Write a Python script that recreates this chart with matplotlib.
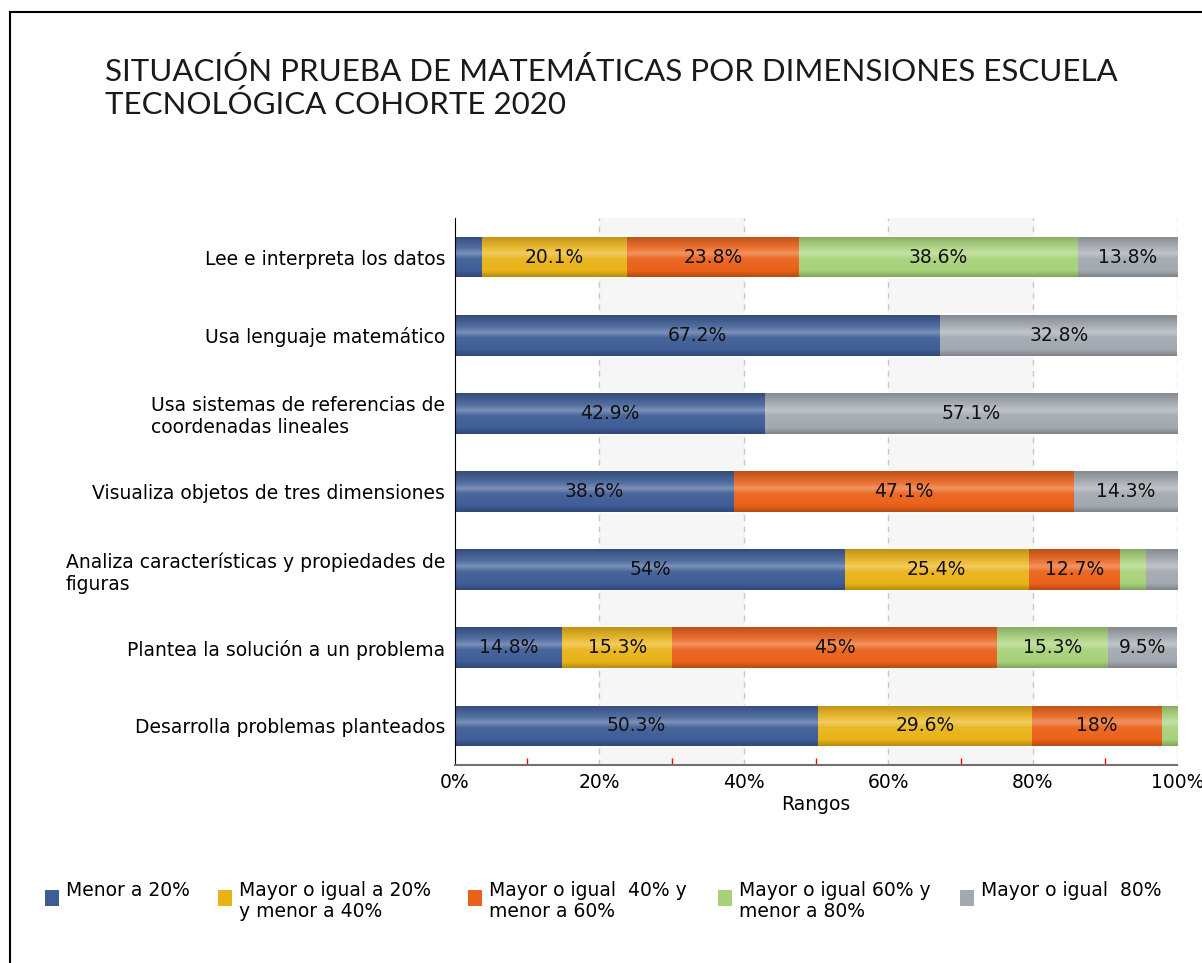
import numpy as np
import matplotlib
matplotlib.use("Agg")
import matplotlib.pyplot as plt
from matplotlib.colors import LinearSegmentedColormap, to_rgb
from matplotlib.patches import Rectangle

categories = [
    "Lee e interpreta los datos",
    "Usa lenguaje matemático",
    "Usa sistemas de referencias de\ncoordenadas lineales",
    "Visualiza objetos de tres dimensiones",
    "Analiza características y propiedades de\nfiguras",
    "Plantea la solución a un problema",
    "Desarrolla problemas planteados",
]
series_names = [
    "Menor a 20%",
    "Mayor o igual a 20%\ny menor a 40%",
    "Mayor o igual  40% y\nmenor a 60%",
    "Mayor o igual 60% y\nmenor a 80%",
    "Mayor o igual  80%",
]
menor_20 = [3.7, 67.2, 42.9, 38.6, 54.0, 14.8, 50.3]
entre_20_40 = [20.1, 0, 0, 0, 25.4, 15.3, 29.6]
entre_40_60 = [23.8, 0, 0, 47.1, 12.7, 45.0, 18.0]
entre_60_80 = [38.6, 0, 0, 0, 3.5, 15.3, 2.1]
mayor_80 = [13.8, 32.8, 57.1, 14.3, 4.4, 9.5, 0]
xticks = [0, 20, 40, 60, 80, 100]

series = [menor_20, entre_20_40, entre_40_60, entre_60_80, mayor_80]
colors = ["#3e5d96", "#e9b318", "#ea6119", "#a8d27a", "#a3a9b0"]

plt.rcParams['font.family'] = ['Lato', 'DejaVu Sans']
TXT = 13.5

fig = plt.figure(figsize=(12.02, 9.63), dpi=100)
ax = fig.add_axes([0.3785, 0.2056, 0.601, 0.568])

# outer frame
fig.patches.append(Rectangle((10 / 1202, -0.01), 1.01, 1 - 12 / 963 + 0.01,
                             transform=fig.transFigure, fill=False,
                             edgecolor="black", linewidth=1.5))

# alternating background bands + dashed grid
for i in range(1, len(xticks) - 1, 2):
    ax.axvspan(xticks[i], xticks[i + 1], color="#f6f6f6", zorder=0)
for t in xticks[1:]:
    ax.axvline(t, color="#c8c8c8", linestyle=(0, (4, 4)), linewidth=1, zorder=0.5)


def shade(c, f):
    r = np.array(to_rgb(c))
    if f >= 0:
        return tuple(r + (1 - r) * f)
    return tuple(r * (1 + f))


y = np.arange(len(categories))
left = np.zeros(len(categories))
grad = np.linspace(0, 1, 100).reshape(-1, 1)
for vals, name, c in zip(series, series_names, colors):
    vals = np.array(vals, dtype=float)
    bars = ax.barh(y, vals, left=left, height=0.52, color=c,
                   edgecolor="white", linewidth=1.2, zorder=2)
    cmap = LinearSegmentedColormap.from_list(
        "g", [(0, shade(c, -0.18)), (0.3, shade(c, 0.12)), (0.42, shade(c, 0.32)),
              (0.55, shade(c, 0.06)), (0.85, c), (1, shade(c, -0.22))])
    for b, v in zip(bars, vals):
        if v <= 0:
            continue
        x0, y0 = b.get_x(), b.get_y()
        im = ax.imshow(grad, extent=(x0, x0 + b.get_width(), y0 + b.get_height(), y0),
                       aspect="auto", cmap=cmap, zorder=2.5)
        im.set_clip_path(b)
        if v >= 9:
            ax.text(x0 + b.get_width() / 2, b.get_y() + b.get_height() / 2,
                    f"{v:g}%", ha="center", va="center", fontsize=TXT,
                    color="#111111", zorder=3, family="DejaVu Sans")
    left += vals

ax.set_xlim(0, 100)
ax.set_ylim(len(categories) - 0.5, -0.5)
ax.set_yticks(y)
ax.set_yticklabels(categories, fontsize=TXT, family="DejaVu Sans", multialignment="left")
ax.set_xticks(xticks)
ax.set_xticklabels([f"{t}%" for t in xticks], fontsize=TXT, family="DejaVu Sans")
ax.set_xticks([10, 30, 50, 70, 90], minor=True)
ax.tick_params(axis="x", which="minor", direction="in", length=5, color="red", width=1)
ax.tick_params(axis="x", which="major", length=0, pad=6)
ax.tick_params(axis="y", length=0, pad=7)
ax.set_xlabel("Rangos", fontsize=TXT, family="DejaVu Sans", labelpad=2)

for s in ["top", "right"]:
    ax.spines[s].set_visible(False)
ax.spines["left"].set_color("black")
ax.spines["bottom"].set_color("#707070")
ax.spines["bottom"].set_linewidth(1.5)

fig.text(105 / 1202, 1 - 57 / 963,
         "SITUACIÓN PRUEBA DE MATEMÁTICAS POR DIMENSIONES ESCUELA\nTECNOLÓGICA COHORTE 2020",
         ha="left", va="top", fontsize=22.5, linespacing=1.18, color="#1a1a1a")

# legend
leg_x = [45, 218, 468, 718, 960]
for px, name, c in zip(leg_x, series_names, colors):
    fig.patches.append(Rectangle((px / 1202, 1 - 906 / 963), 14 / 1202, 16 / 963,
                                 transform=fig.transFigure, facecolor=c, edgecolor="none"))
    fig.text((px + 21) / 1202, 1 - 881 / 963, name, ha="left", va="top",
             fontsize=TXT, family="DejaVu Sans", linespacing=1.1)

fig.savefig("out.png", dpi=100, facecolor="white")
